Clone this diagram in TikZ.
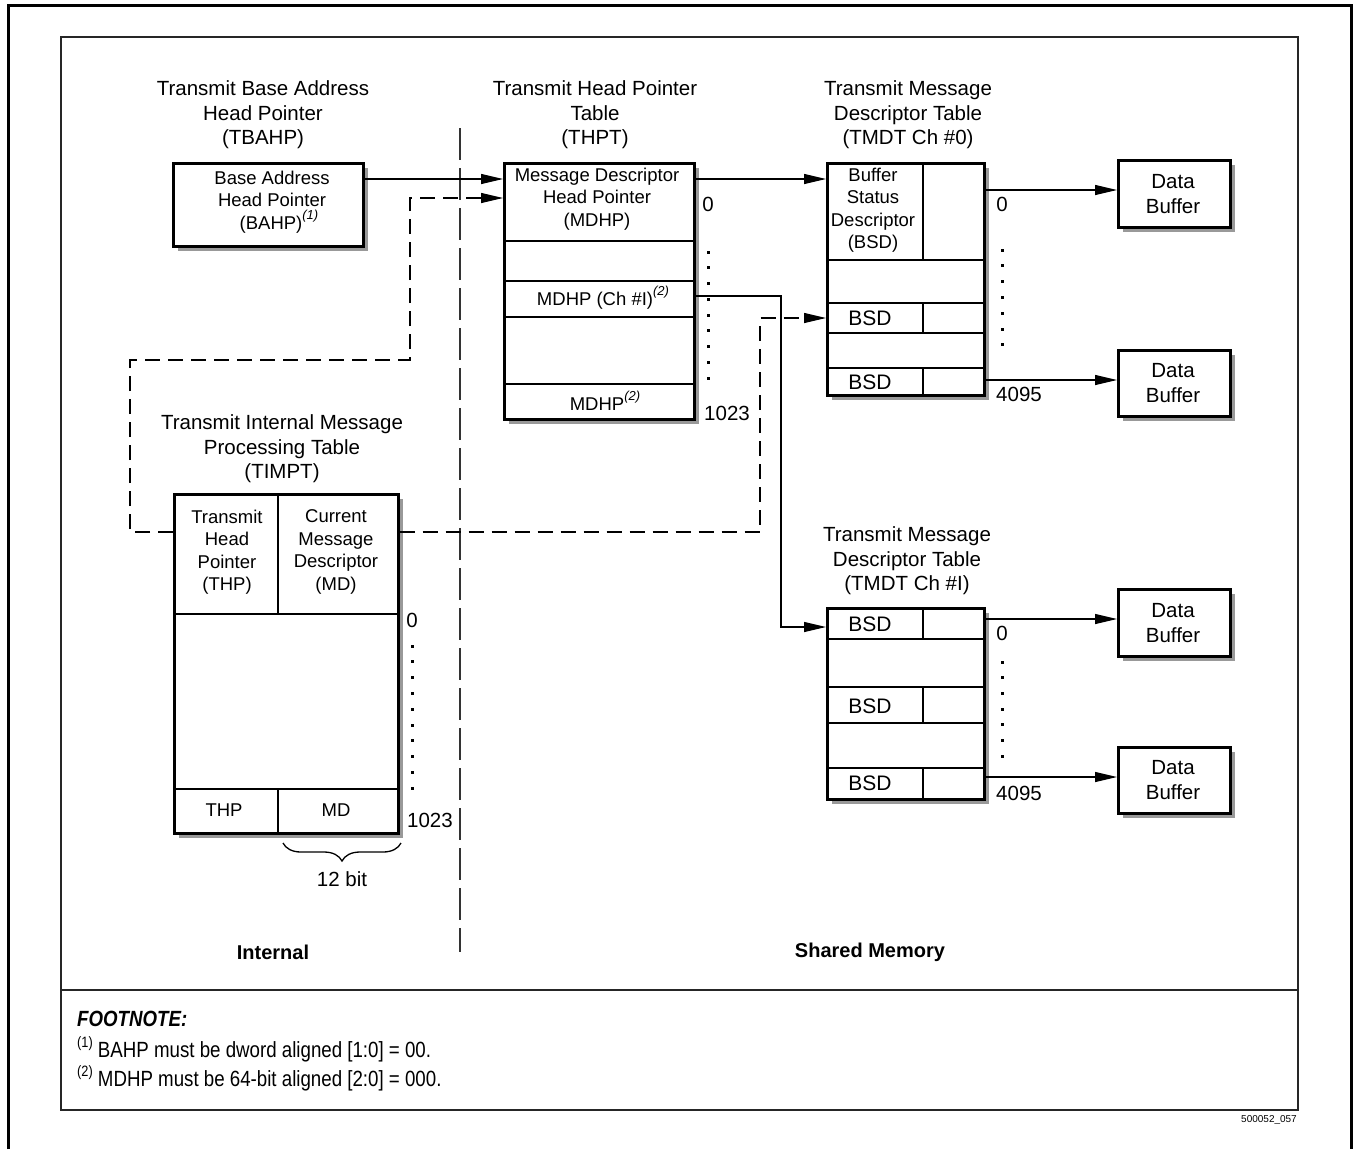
\documentclass[tikz,border=0pt]{standalone}
\usepackage{fontspec}
\setmainfont{Liberation Sans}
\newfontfamily\footfont[FakeStretch=0.85]{Liberation Sans}
\usetikzlibrary{arrows.meta,shadows,decorations.pathreplacing}
\newcommand\supit[1]{\raisebox{0.55em}{\fontsize{13}{13}\selectfont\itshape #1}}
\newcommand\supup[1]{\raisebox{0.45em}{\fontsize{15}{15}\selectfont #1}}
\begin{document}
\begin{tikzpicture}[x=1pt,y=-1pt,
  tbl/.style={draw=black, line width=2.5pt, fill=white, anchor=north west, inner sep=0pt,
    general shadow={fill=black!40, shadow xshift=5pt, shadow yshift=-5pt}},
  thinl/.style={line width=1.2pt},
  arr/.style={line width=1.2pt, -{Triangle[length=22pt,width=10pt]}},
  dsh/.style={dash pattern=on 15pt off 8pt},
  ttl/.style={font=\fontsize{20.5}{24.5}\selectfont, align=center, inner sep=0pt},
  celltxt/.style={font=\fontsize{18.5}{22.5}\selectfont, align=center, inner sep=0pt},
  bsdtxt/.style={font=\fontsize{21}{24}\selectfont, inner sep=0pt},
  numtxt/.style={font=\fontsize{20.5}{24.5}\selectfont, inner sep=0pt},
  dbtxt/.style={font=\fontsize{20.5}{24.5}\selectfont, align=center, inner sep=0pt},
  sidelbl/.style={font=\bfseries\fontsize{20}{24}\selectfont, inner sep=0pt},
  fntxt/.style={font=\footfont\fontsize{22}{26}\selectfont, anchor=west, inner sep=0pt},
  dotcol/.style={fill=black}
]
\useasboundingbox (0,0) rectangle (1354,1149);
% frames
\draw[line width=3pt] (8,1149) -- (8,5) -- (1351,5) -- (1351,1149);
\draw[line width=1.3pt, draw=black!85] (61,37) rectangle (1298,1110);
\draw[line width=1.3pt, draw=black!85] (61,990) -- (1298,990);
% separator
\draw[line width=1.4pt, black!80, dash pattern=on 32pt off 8pt] (460,128) -- (460,952);

% titles
\node[ttl] (t1) at (263,115) {Transmit Base Address\\Head Pointer\\(TBAHP)};
\node[ttl] (t2) at (595,115) {Transmit Head Pointer\\Table\\(THPT)};
\node[ttl] (t3) at (908,115) {Transmit Message\\Descriptor Table\\(TMDT Ch \#0)};
\node[ttl] (t4) at (282,449) {Transmit Internal Message\\Processing Table\\(TIMPT)};
\node[ttl] (t5) at (907,561) {Transmit Message\\Descriptor Table\\(TMDT Ch \#I)};

% TBAHP box
\node[tbl, minimum width=190pt, minimum height=83pt] (bahp) at (172,162) {};
\node[celltxt] (bahptxt) at (272,202) {Base Address\\Head Pointer\\\hspace*{14pt}(BAHP)\supit{(1)}};

% THPT
\node[tbl, minimum width=190pt, minimum height=256pt] (thpt) at (503,162) {};
\foreach \yy in {241,281,317,384} \draw[thinl] (503,\yy) -- (693,\yy);
\node[celltxt] (thpt0) at (597,199) {Message Descriptor\\Head Pointer\\(MDHP)};
\node[celltxt] (thpti) at (603,298) {MDHP (Ch \#I)\supit{(2)}};
\node[celltxt] (thptn) at (605,401) {MDHP\supit{(2)}};
\node[numtxt] (thptz) at (708,204) {0};
\node[numtxt] (thpte) at (727,413) {1023};
\foreach \i in {0,...,8} \fill[dotcol] (706.5,250.5+15.75*\i) rectangle ++(3,3);

% TMDT Ch #0
\node[tbl, minimum width=157pt, minimum height=232pt] (tmdt0) at (826,162) {};
\foreach \yy in {260,303,333,368} \draw[thinl] (826,\yy) -- (983,\yy);
\draw[thinl] (923,162) -- (923,260);
\draw[thinl] (923,303) -- (923,333);
\draw[thinl] (923,368) -- (923,394);
\node[celltxt] (bsd0) at (873,210) {Buffer\\Status\\Descriptor\\(BSD)};
\node[bsdtxt] (bsd0b) at (870,318) {BSD};
\node[bsdtxt] (bsd0c) at (870,382) {BSD};
\node[numtxt] (t0z) at (1002,204) {0};
\node[numtxt] (t0e) at (1019,394) {4095};
\foreach \i in {0,...,6} \fill[dotcol] (1000.5,248.5+15.8*\i) rectangle ++(3,3);

% TMDT Ch #I
\node[tbl, minimum width=157pt, minimum height=191pt] (tmdt1) at (826,607) {};
\foreach \yy in {639,687,723,768} \draw[thinl] (826,\yy) -- (983,\yy);
\draw[thinl] (923,607) -- (923,639);
\draw[thinl] (923,687) -- (923,723);
\draw[thinl] (923,768) -- (923,798);
\node[bsdtxt] (bsd1a) at (870,624) {BSD};
\node[bsdtxt] (bsd1b) at (870,706) {BSD};
\node[bsdtxt] (bsd1c) at (870,783) {BSD};
\node[numtxt] (t1z) at (1002,633) {0};
\node[numtxt] (t1e) at (1019,793) {4095};
\foreach \i in {0,...,6} \fill[dotcol] (1000.5,660.5+15.7*\i) rectangle ++(3,3);

% TIMPT
\node[tbl, minimum width=224pt, minimum height=339pt] (timpt) at (173,493) {};
\draw[thinl] (173,614) -- (397,614);
\draw[thinl] (173,789) -- (397,789);
\draw[thinl] (278,493) -- (278,614);
\draw[thinl] (278,789) -- (278,832);
\node[celltxt] (thpc) at (227,552) {Transmit\\Head\\Pointer\\(THP)};
\node[celltxt] (mdc) at (336,552) {Current\\Message\\Descriptor\\(MD)};
\node[celltxt] (thpb) at (224,810) {THP};
\node[celltxt] (mdb) at (336,810) {MD};
\node[numtxt] (tiz) at (412,620) {0};
\node[numtxt] (tie) at (430,820) {1023};
\foreach \i in {0,...,9} \fill[dotcol] (410.5,644.5+15.8*\i) rectangle ++(3,3);
\draw[line width=1.3pt, decorate, decoration={brace, mirror, amplitude=18pt}] (283,843) -- (401,843);
\node[numtxt] (bits) at (342,879) {12 bit};

% Data buffers
\node[tbl, minimum width=112pt, minimum height=67pt] (db1) at (1117,159) {};
\node[dbtxt] at (1173,194) {Data\\Buffer};
\node[tbl, minimum width=112pt, minimum height=66pt] (db2) at (1117,349) {};
\node[dbtxt] at (1173,383) {Data\\Buffer};
\node[tbl, minimum width=112pt, minimum height=67pt] (db3) at (1117,588) {};
\node[dbtxt] at (1173,623) {Data\\Buffer};
\node[tbl, minimum width=112pt, minimum height=66pt] (db4) at (1117,746) {};
\node[dbtxt] at (1173,780) {Data\\Buffer};

% connectors
\draw[arr] (bahp.east |- 0,179) -- (thpt.west |- 0,179);
\draw[arr, dsh] (timpt.west |- 0,532) -- (130,532) -- (130,360) -- (410,360) -- (410,198) -- (thpt.west |- 0,198);
\draw[arr] (thpt.east |- 0,179) -- (tmdt0.west |- 0,179);
\draw[arr] (thpt.east |- 0,296) -- (781,296) -- (781,627) -- (tmdt1.west |- 0,627);
\draw[arr, dsh] (timpt.east |- 0,532) -- (760,532) -- (760,318) -- (tmdt0.west |- 0,318);
\draw[arr] (tmdt0.east |- 0,190) -- (db1.west |- 0,190);
\draw[arr] (tmdt0.east |- 0,380) -- (db2.west |- 0,380);
\draw[arr] (tmdt1.east |- 0,619) -- (db3.west |- 0,619);
\draw[arr] (tmdt1.east |- 0,777) -- (db4.west |- 0,777);

% bottom labels
\node[sidelbl] (lint) at (273,952) {Internal};
\node[sidelbl] (lsh) at (870,952) {Shared Memory};

% footnote
\node[font=\footfont\bfseries\itshape\fontsize{22}{26}\selectfont, anchor=west, inner sep=0pt] (fn) at (77,1019) {FOOTNOTE:};
\node[fntxt] (fn1) at (77,1049) {\supup{(1)} BAHP must be dword aligned [1:0] = 00.};
\node[fntxt] (fn2) at (77,1078) {\supup{(2)} MDHP must be 64-bit aligned [2:0] = 000.};
\node[font=\fontsize{10}{12}\selectfont, anchor=north east, inner sep=0pt] (code) at (1297,1115) {500052\_057};
\end{tikzpicture}
\end{document}
